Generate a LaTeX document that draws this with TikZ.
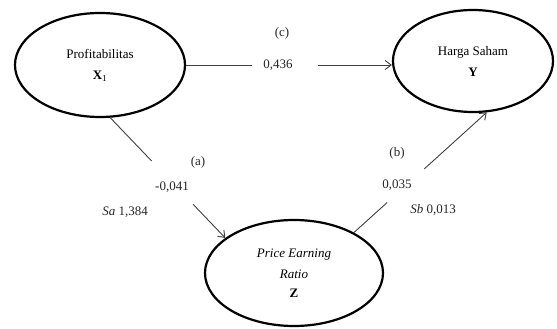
\documentclass[tikz,border=0pt]{standalone}
\usepackage{fontspec}
\setmainfont{Liberation Serif}
\usetikzlibrary{shapes.geometric,arrows.meta,calc}
\begin{document}
\begin{tikzpicture}[x=1pt,y=1pt,
  var/.style={draw=black,ellipse,line width=2.2pt,align=center,inner sep=0pt,
    font=\fontsize{13}{21}\selectfont},
  conn/.style={draw=black!75,line width=0.9pt},
  arr/.style={conn,-{Straight Barb[length=6pt,width=9pt,line width=0.9pt]}},
  lab/.style={font=\fontsize{13}{15}\selectfont,text=black!85,inner sep=1pt}]
\useasboundingbox (0,0) rectangle (557,-329);
\fill[white] (0,0) rectangle (557,-329);
\node[var,minimum width=170pt,minimum height=104pt] (X) at (100,-65)
  {Profitabilitas\\\textbf{X}\textsubscript{1}};
\node[var,minimum width=160pt,minimum height=102pt] (Y) at (473,-61)
  {Harga Saham\\\textbf{Y}};
\node[var,minimum width=178pt,minimum height=106pt] (Z) at (294,-273)
  {\textit{Price Earning}\\[0pt]\textit{Ratio}\\[-2pt]\textbf{Z}};
% path c
\coordinate (ye) at (Y.west |- X.east);
\path (X.east) -- (ye) coordinate[pos=0.32] (c1) coordinate[pos=0.64] (c2);
\draw[conn] (X.east) -- (c1);
\draw[arr] (c2) -- (ye);
\node[lab] (lc) at (278,-65) {0,436};
\node[lab] (tc) at (282,-33) {(c)};
% path a
\path (X.-79) -- (Z.153) coordinate[pos=0.36] (a1) coordinate[pos=0.72] (a2);
\draw[conn] (X.-79) -- (a1);
\draw[arr] (a2) -- (Z.153);
\node[lab] (la) at (172,-187) {-0,041};
\node[lab] (ta) at (198,-162) {(a)};
\node[lab] (sa) at (125,-212) {\textit{Sa} 1,384};
% path b
\path (Z.34) -- (Y.-75) coordinate[pos=0.25] (b1) coordinate[pos=0.53] (b2);
\draw[conn] (Z.34) -- (b1);
\draw[arr] (b2) -- (Y.-75);
\node[lab] (lb) at (397,-185) {0,035};
\node[lab] (tb) at (397,-153) {(b)};
\node[lab] (sb) at (433,-210) {\textit{Sb} 0,013};
\end{tikzpicture}
\end{document}
